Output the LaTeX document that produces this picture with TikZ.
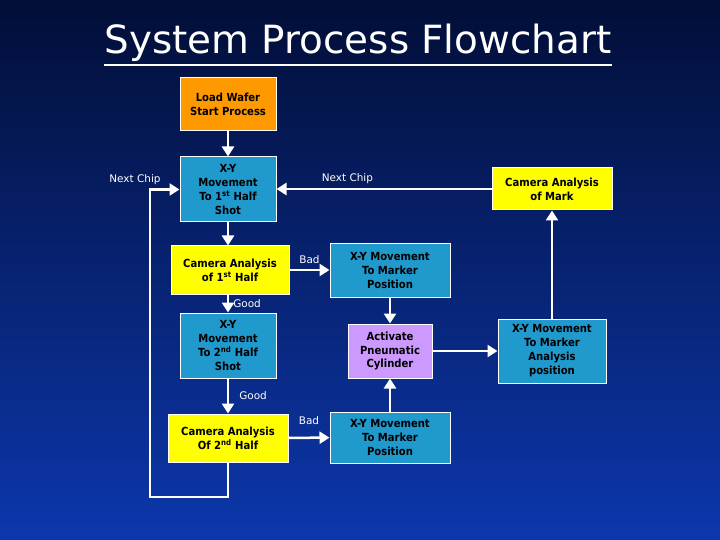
\documentclass[tikz,border=0pt]{standalone}
\usepackage{fontspec}
\setmainfont{DejaVu Sans}
\newfontfamily\boxfont{DejaVu Sans Condensed}
\usepackage{tikz}
\usetikzlibrary{%
   arrows.meta,%
   positioning,%
   calc}
\definecolor{bgtop}{RGB}{2,14,55}
\definecolor{bgbot}{RGB}{12,55,172}
\definecolor{movecol}{RGB}{32,153,204}
\definecolor{startcol}{RGB}{255,153,0}
\definecolor{checkcol}{RGB}{255,255,0}
\definecolor{actcol}{RGB}{204,153,255}

\begin{document}
\begin{tikzpicture}
	[x=1bp,y=1bp,>={Triangle[length=10bp,width=12bp]},
	box/.style={draw=white,line width=1bp,align=center,inner sep=2bp,text=black,
		font=\boxfont\bfseries\fontsize{11.2}{14}\selectfont},
	start/.style={box,fill=startcol},
	move/.style={box,fill=movecol},
	check/.style={box,fill=checkcol},
	act/.style={box,fill=actcol},
	flow/.style={draw=white,line width=2.5bp,->},
	lbl/.style={text=white,font=\fontsize{10.5}{12}\selectfont,inner sep=2bp}]
	% background
	\shade[top color=bgtop,bottom color=bgbot] (0,0) rectangle (720,-540);
	\useasboundingbox (0,0) rectangle (720,-540);
	% title
	\node[text=white,font=\fontsize{39}{41}\selectfont,inner sep=0pt] (title) at (358,-43) {System Process Flowchart};
	\draw[white,line width=2.5bp] ([yshift=-3bp]title.south west) -- ([yshift=-3bp]title.south east);
	% first column
	\node[start,minimum width=96bp,minimum height=53bp] (load) at (228,-104.5) {Load Wafer\\Start Process};
	\node[move,minimum width=96bp,minimum height=65bp] (xy1) at (228,-189.5) {X-Y\\Movement\\To 1\textsuperscript{st} Half\\Shot};
	\node[check,minimum width=118bp,minimum height=48bp] (cam1) at (230,-270) {Camera Analysis\\of 1\textsuperscript{st} Half};
	\node[move,minimum width=96bp,minimum height=65bp] (xy2) at (228,-345.5) {X-Y\\Movement\\To 2\textsuperscript{nd} Half\\Shot};
	\node[check,minimum width=120bp,minimum height=48bp] (cam2) at (228,-438) {Camera Analysis\\Of 2\textsuperscript{nd} Half};
	% second column
	\node[move,minimum width=120bp,minimum height=53bp] (mark1) at (390,-270.5) {X-Y Movement\\To Marker\\Position};
	\node[act,minimum width=84bp,minimum height=54bp] (pneu) at (390,-351) {Activate\\Pneumatic\\Cylinder};
	\node[move,minimum width=120bp,minimum height=51bp] (mark2) at (390,-437.5) {X-Y Movement\\To Marker\\Position};
	% third column
	\node[check,minimum width=120bp,minimum height=42bp] (cammark) at (552,-189) {Camera Analysis\\of Mark};
	\node[move,minimum width=108bp,minimum height=64bp] (xyana) at (552,-351) {X-Y Movement\\To Marker\\Analysis\\position};
	% connectors
	\draw[flow] (load) -- (xy1);
	\draw[flow] (xy1) -- (cam1.north -| xy1);
	\draw[flow] (cam1.south -| xy2) -- node[lbl,right,xshift=2bp] {Good} (xy2);
	\draw[flow] (xy2) -- node[lbl,right,xshift=8bp] {Good} (cam2);
	\draw[flow] (cam1) -- node[lbl,above,yshift=3bp] {Bad} (mark1.west |- cam1);
	\draw[flow] (cam2) -- node[lbl,above,yshift=10bp] {Bad} (mark2);
	\draw[flow] (mark1) -- (pneu);
	\draw[flow] (mark2) -- (pneu);
	\draw[flow] (pneu) -- (xyana);
	\draw[flow] (xyana) -- (cammark);
	\draw[flow] (cammark) -- node[lbl,above,pos=0.67,yshift=2bp] {Next Chip} (xy1.east |- cammark);
	\coordinate (loop) at (150,-497);
	\draw[flow] (cam2.south) |- (loop) |- (xy1.west);
	\node[lbl] (nextl) at (135,-180) {Next Chip};
\end{tikzpicture}
\end{document}
